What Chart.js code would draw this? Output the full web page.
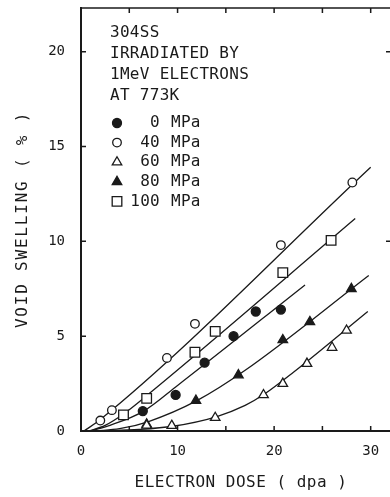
<!DOCTYPE html>
<html>
<head>
<meta charset="utf-8">
<script src="https://cdn.jsdelivr.net/npm/chart.js@4/dist/chart.umd.min.js"></script>
<style>
  html, body { margin: 0; padding: 0; background: #fff; }
  #chart { display: block; }
</style>
</head>
<body>
<canvas id="chart" width="390" height="497"></canvas>
<script>
// measured points, dose (dpa) vs swelling (%)
const dose0 = [6.4, 9.8, 12.8, 15.8, 18.1, 20.7];
const swell0 = [1.05, 1.9, 3.6, 5.0, 6.3, 6.4];
const dose40 = [2.0, 3.2, 8.9, 11.8, 20.7, 28.1];
const swell40 = [0.55, 1.1, 3.85, 5.65, 9.8, 13.1];
const dose60 = [6.8, 9.4, 13.9, 18.9, 20.9, 23.4, 26.0, 27.5];
const swell60 = [0.3, 0.28, 0.7, 1.9, 2.5, 3.55, 4.4, 5.3];
const dose80 = [6.8, 11.9, 16.3, 20.9, 23.7, 28.0];
const swell80 = [0.35, 1.6, 2.95, 4.8, 5.75, 7.5];
const dose100 = [4.4, 6.8, 11.8, 13.9, 20.9, 25.9];
const swell100 = [0.85, 1.72, 4.15, 5.25, 8.35, 10.05];

// hand-drawn fit curves
const fitDose0 = [1.0, 3.0, 6.5, 10.0, 23.2];
const fitSwell0 = [0, 0.3, 1.05, 2.4, 7.7];
const fitDose40 = [0.3, 2.0, 30.0];
const fitSwell40 = [0, 0.6, 13.9];
const fitDose60 = [2.0, 6.0, 9.5, 14.0, 17.0, 19.0, 22.0, 29.7];
const fitSwell60 = [0, 0.08, 0.25, 0.75, 1.35, 1.95, 3.1, 6.3];
const fitDose80 = [1.5, 4.0, 7.0, 12.0, 17.0, 29.8];
const fitSwell80 = [0, 0.12, 0.5, 1.6, 3.2, 8.2];
const fitDose100 = [0.8, 2.5, 4.4, 7.0, 28.4];
const fitSwell100 = [0, 0.3, 0.9, 1.95, 11.2];

const xTicks = [0, 10, 20, 30];
const yTicks = [0, 5, 10, 15, 20];
const xMinor = [5, 10, 15, 20, 25, 30];
const yMinor = [5, 10, 15, 20];
const rightTicks = [10, 20];

const noteLines = ['304SS', 'IRRADIATED BY', '1MeV ELECTRONS', 'AT 773K'];
const legendNums = ['0', '40', '60', '80', '100'];
const legendUnit = 'MPa';
const xTitle = 'ELECTRON DOSE ( dpa )';
const yTitle = 'VOID SWELLING ( % )';

const FONT = '"DejaVu Sans Mono", monospace';
const INK = '#1a1a1a';

const markers = [
  { style: 'circle', fill: INK, radius: 4.5 },
  { style: 'circle', fill: '#fff', radius: 4.3 },
  { style: 'triangle', fill: '#fff', radius: 5.5 },
  { style: 'triangle', fill: INK, radius: 5.5 },
  { style: 'rect', fill: '#fff', radius: 6.8 }
];

function pts(xs, ys) {
  return xs.map((x, i) => ({ x: x, y: ys[i] }));
}

function pointSet(xs, ys, m) {
  return {
    data: pts(xs, ys),
    showLine: false,
    pointStyle: m.style,
    pointRadius: m.radius,
    pointBackgroundColor: m.fill,
    pointBorderColor: INK,
    pointBorderWidth: 1.3,
    order: 0
  };
}

function fitSet(xs, ys) {
  return {
    data: pts(xs, ys),
    showLine: true,
    borderColor: INK,
    borderWidth: 1.3,
    pointRadius: 0,
    cubicInterpolationMode: 'monotone',
    order: 1
  };
}

function drawMarker(ctx, m, x, y) {
  ctx.save();
  ctx.fillStyle = m.fill;
  ctx.strokeStyle = INK;
  ctx.lineWidth = 1.3;
  ctx.beginPath();
  if (m.style === 'circle') {
    ctx.arc(x, y, m.radius, 0, Math.PI * 2);
  } else if (m.style === 'triangle') {
    const r = m.radius;
    ctx.moveTo(x, y - r);
    ctx.lineTo(x + r * 0.866, y + r * 0.5);
    ctx.lineTo(x - r * 0.866, y + r * 0.5);
    ctx.closePath();
  } else {
    const s = m.radius * Math.SQRT1_2;
    ctx.rect(x - s, y - s, s * 2, s * 2);
  }
  ctx.fill();
  ctx.stroke();
  ctx.restore();
}

// keep the plot box fixed, no extra room for label overhang
function noPad(s) {
  s.paddingTop = 0;
  s.paddingBottom = 0;
  s.paddingLeft = 0;
  s.paddingRight = 0;
}

const framePlugin = {
  id: 'frame',
  afterDraw(chart) {
    const ctx = chart.ctx;
    const a = chart.chartArea;
    const xs = chart.scales.x, ys = chart.scales.y;
    ctx.save();
    ctx.strokeStyle = INK;
    ctx.lineWidth = 1.5;
    // top edge of the frame
    ctx.beginPath();
    ctx.moveTo(a.left, a.top);
    ctx.lineTo(a.right, a.top);
    ctx.stroke();
    // inward ticks
    ctx.beginPath();
    xMinor.forEach(v => {
      const px = xs.getPixelForValue(v);
      ctx.moveTo(px, a.bottom); ctx.lineTo(px, a.bottom - 5);
      ctx.moveTo(px, a.top); ctx.lineTo(px, a.top + 5);
    });
    yMinor.forEach(v => {
      const py = ys.getPixelForValue(v);
      ctx.moveTo(a.left, py); ctx.lineTo(a.left + 5, py);
    });
    rightTicks.forEach(v => {
      const py = ys.getPixelForValue(v);
      ctx.moveTo(a.right, py); ctx.lineTo(a.right - 4, py);
    });
    ctx.stroke();

    // axis titles
    ctx.fillStyle = INK;
    ctx.font = '16px ' + FONT;
    ctx.textBaseline = 'middle';
    ctx.textAlign = 'center';
    ctx.letterSpacing = '0.5px';
    ctx.fillText(xTitle, 241, 483);
    ctx.save();
    ctx.translate(23, (a.top + a.bottom) / 2);
    ctx.rotate(-Math.PI / 2);
    ctx.letterSpacing = '1.8px';
    ctx.fillText(yTitle, 0, 0);
    ctx.restore();

    // note block
    ctx.textAlign = 'left';
    ctx.letterSpacing = '0.3px';
    noteLines.forEach((t, i) => {
      ctx.fillText(t, 110, 33 + i * 21);
    });

    // legend
    legendNums.forEach((n, i) => {
      const y = 123 + i * 19.6;
      drawMarker(ctx, markers[i], 117, y);
      ctx.textAlign = 'right';
      ctx.fillText(n, 160, y);
      ctx.textAlign = 'left';
      ctx.fillText(legendUnit, 171, y);
    });
    ctx.restore();
  }
};

const datasets = [
  pointSet(dose0, swell0, markers[0]),
  pointSet(dose40, swell40, markers[1]),
  pointSet(dose60, swell60, markers[2]),
  pointSet(dose80, swell80, markers[3]),
  pointSet(dose100, swell100, markers[4]),
  fitSet(fitDose0, fitSwell0),
  fitSet(fitDose40, fitSwell40),
  fitSet(fitDose60, fitSwell60),
  fitSet(fitDose80, fitSwell80),
  fitSet(fitDose100, fitSwell100)
];

new Chart(document.getElementById('chart'), {
  type: 'scatter',
  data: { datasets: datasets },
  options: {
    responsive: false,
    animation: false,
    layout: { autoPadding: false, padding: { left: 0, right: 0, top: 8, bottom: 0 } },
    plugins: { legend: { display: false }, tooltip: { enabled: false } },
    scales: {
      x: {
        type: 'linear',
        min: 0,
        max: 32,
        afterBuildTicks: s => { s.ticks = xTicks.map(v => ({ value: v })); },
        afterFit: s => { s.height = 66; noPad(s); },
        grid: { display: false, drawTicks: false },
        border: { display: true, color: INK, width: 2 },
        ticks: { color: INK, padding: 12, font: { family: FONT, size: 14 } }
      },
      y: {
        type: 'linear',
        min: 0,
        max: 22.3,
        afterBuildTicks: s => { s.ticks = yTicks.map(v => ({ value: v })); },
        afterFit: s => { s.width = 81; noPad(s); },
        grid: { display: false, drawTicks: false },
        border: { display: true, color: INK, width: 2 },
        ticks: { color: INK, padding: 16, font: { family: FONT, size: 14 } }
      }
    }
  },
  plugins: [framePlugin]
});
</script>
</body>
</html>
